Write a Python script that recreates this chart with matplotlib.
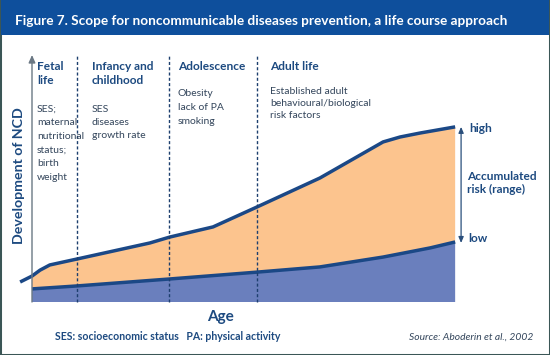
import matplotlib
matplotlib.use("Agg")
import matplotlib.pyplot as plt
import numpy as np
from matplotlib.patches import Rectangle

# ---------------- data (age 0-100, development 0-100) ----------------
upper_x = [-2.8, 0.0, 1.9, 4.2, 10.6, 27.8, 32.5, 42.7, 53.1, 67.9, 82.8, 86.8, 91.5, 99.8]
upper_y = [8.1, 10.5, 12.9, 15.0, 17.4, 23.9, 26.3, 30.4, 38.5, 50.2, 64.8, 66.8, 68.4, 70.9]
lower_x = [0.0, 10.6, 32.3, 53.1, 67.9, 82.8, 93.9, 99.8]
lower_y = [5.3, 6.5, 9.3, 12.1, 14.2, 18.2, 21.9, 24.3]
stage_bounds = [10.6, 32.3, 53.1]

title = "Figure 7. Scope for noncommunicable diseases prevention, a life course approach"
stage_heads = [["Fetal", "life"], ["Infancy and", "childhood"], ["Adolescence"], ["Adult life"]]
stage_body = [["SES;", "maternal", "nutritional", "status;", "birth", "weight"],
              ["SES", "diseases", "growth rate"],
              ["Obesity", "lack of PA", "smoking"],
              ["Established adult", "behavioural/biological", "risk factors"]]
ylabel = "Development of NCD"
xlabel = "Age"
footnote = "SES: socioeconomic status   PA: physical activity"
source = "Source: Aboderin et al., 2002"

# ---------------- style ----------------
W, H = 550, 355
NAVY = "#1d4a80"
LINE = "#1b4886"
ORANGE = "#fcc48e"
BLUE = "#6a7fbd"
BAR = "#0e4f9c"
BODY = "#34465c"

plt.rcParams['font.family'] = ['Lato', 'DejaVu Sans']

fig = plt.figure(figsize=(W / 100, H / 100), dpi=100)
fig.patch.set_facecolor("white")

def fx(px):
    return px / W

def fy(py):
    return 1 - py / H

# frame and title bar
fig.patches.append(Rectangle((0, 0), 1, 1, transform=fig.transFigure,
                             facecolor="none", edgecolor="#3b5656", lw=2.2, zorder=0))
fig.patches.append(Rectangle((fx(1), fy(35)), fx(548), 35 / H, transform=fig.transFigure,
                             facecolor=BAR, edgecolor="none", zorder=1))
fig.text(fx(15), fy(21), title, color="white", fontsize=9.8, fontweight="bold",
         ha="left", va="center")

# chart axes: origin pixel (32,302), top 55, right 456
ax = fig.add_axes([fx(32), fy(302), fx(456 - 32), (302 - 55) / H])
ax.set_xlim(0, 100)
ax.set_ylim(0, 100)
ax.axis("off")

ux = np.array(upper_x); uy = np.array(upper_y)
lx = np.array(lower_x); ly = np.array(lower_y)
m = ux >= 0
ax.fill(np.concatenate([ux[m], lx[::-1]]), np.concatenate([uy[m], ly[::-1]]),
        color=ORANGE, lw=0, zorder=1)
ax.fill(np.concatenate([lx, [lx[-1], lx[0]]]), np.concatenate([ly, [0, 0]]),
        color=BLUE, lw=0, zorder=1)
ax.plot(ux, uy, color=LINE, lw=2.5, solid_capstyle="butt", solid_joinstyle="round",
        clip_on=False, zorder=3)
ax.plot(lx, ly, color=LINE, lw=2.5, solid_capstyle="butt", solid_joinstyle="round",
        clip_on=False, zorder=3)

for b in stage_bounds:
    ax.plot([b, b], [0, 100], color="#1d3f6e", lw=1.0, ls=(0, (2.2, 1.6)), zorder=4,
            clip_on=False)

# axes arrows
ax.annotate("", xy=(100.2, 0), xytext=(0, 0),
            arrowprops=dict(arrowstyle="-|>,head_length=0.45,head_width=0.2",
                            color="#2b5a8e", lw=1.0, shrinkA=0, shrinkB=0), zorder=5)
ax.annotate("", xy=(0, 100), xytext=(0, 0),
            arrowprops=dict(arrowstyle="-|>,head_length=0.45,head_width=0.2",
                            color="#6b7884", lw=1.0, shrinkA=0, shrinkB=0), zorder=5)
# accumulated risk range arrow
ax.annotate("", xy=(101.2, uy[-1]), xytext=(101.2, ly[-1] - 0.4),
            arrowprops=dict(arrowstyle="<|-|>,head_length=0.35,head_width=0.15",
                            color="#2a4f7c", lw=0.9, shrinkA=0, shrinkB=0),
            annotation_clip=False, zorder=5)

# text blocks
def lines(x, y0, sp, items, **kw):
    for i, t in enumerate(items):
        fig.text(fx(x), fy(y0 + i * sp), t, ha="left", va="center", **kw)

head_kw = dict(color=NAVY, fontsize=8.6, fontweight="bold")
body_kw = dict(color=BODY, fontsize=7.5)
head_pos = [(37, 67, 14), (92, 67, 14), (178, 67, 14), (270, 66, 14)]
body_pos = [(37, 109, 13.6), (92, 109, 13.5), (178, 94, 14), (270, 91, 12)]
for (x, y, sp), t in zip(head_pos, stage_heads):
    lines(x, y, sp, t, **head_kw)
for (x, y, sp), t in zip(body_pos, stage_body):
    lines(x, y, sp, t, **body_kw)

lines(469, 129, 0, ["high"], color=NAVY, fontsize=8.6, fontweight="bold")
lines(468, 238, 0, ["low"], color=NAVY, fontsize=8.6, fontweight="bold")
lines(467, 176, 13, ["Accumulated", "risk (range)"], color=NAVY, fontsize=8.6, fontweight="bold")

fig.text(fx(19), fy(176), ylabel, rotation=90, ha="center", va="center",
         color=NAVY, fontsize=10.2, fontweight="bold")
fig.text(fx(220), fy(317), xlabel, ha="center", va="center",
         color=NAVY, fontsize=11, fontweight="bold")
fig.text(fx(55), fy(337), footnote, ha="left", va="center",
         color=NAVY, fontsize=7.6, fontweight="bold")
fig.text(fx(533), fy(337), source, ha="right", va="center",
         color=BODY, fontsize=7.4, style="italic")

fig.savefig("out.png", dpi=100, facecolor="white")
